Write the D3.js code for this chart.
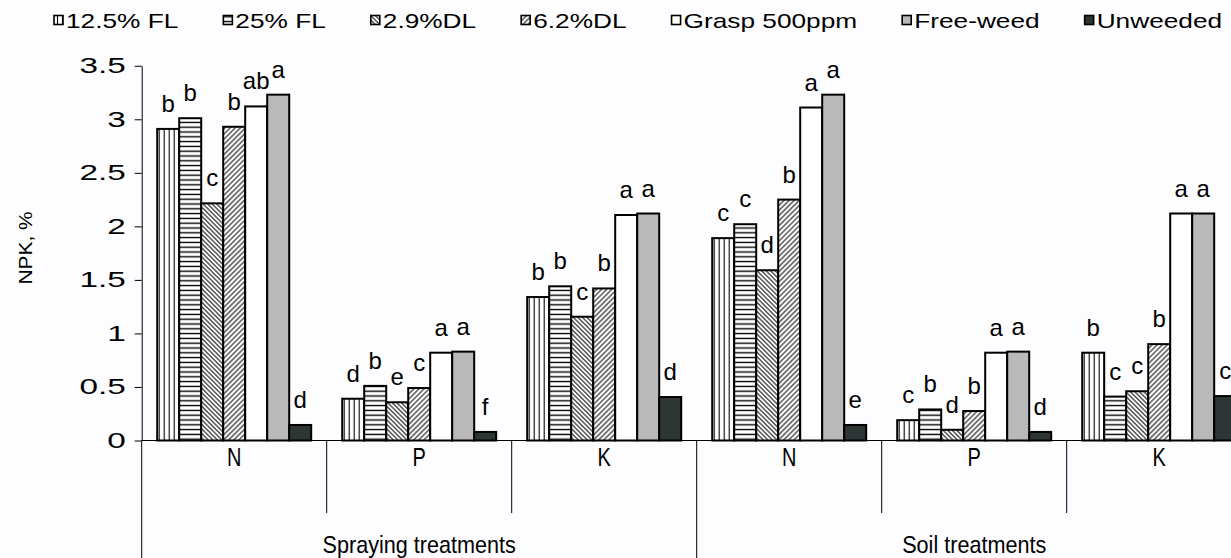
<!DOCTYPE html>
<html lang="en">
<head>
<meta charset="UTF-8">
<title>NPK, %</title>
<script src="https://d3js.org/d3.v7.min.js"></script>
<style>
    body { margin: 0; background: #fdfdff; }
    svg { display: block; }
    text { font-family: "Liberation Sans", Arial, sans-serif; fill: #000; }
</style>
</head>
<body>
<svg width="1231" height="558"></svg>
<script>
const groups = ["Spraying treatments", "Soil treatments"];
const nutrients = ["N", "P", "K"];
const series = ["12.5% FL", "25% FL", "2.9%DL", "6.2%DL", "Grasp 500ppm", "Free-weed", "Unweeded"];
const yTicks = [0, 0.5, 1, 1.5, 2, 2.5, 3, 3.5];

// values per series, order: spraying N, P, K, soil N, P, K
const fl125 = [2.91, 0.39, 1.34, 1.89, 0.19, 0.82];
const fl25 = [3.01, 0.51, 1.44, 2.02, 0.29, 0.41];
const dl29 = [2.215, 0.357, 1.156, 1.59, 0.10, 0.46];
const dl62 = [2.93, 0.49, 1.42, 2.25, 0.275, 0.90];
const grasp = [3.12, 0.82, 2.106, 3.11, 0.82, 2.12];
const freeWeed = [3.23, 0.83, 2.12, 3.23, 0.83, 2.12];
const unweeded = [0.145, 0.08, 0.406, 0.145, 0.08, 0.415];

const lettersFl125 = ["b", "d", "b", "c", "c", "b"];
const lettersFl25 = ["b", "b", "b", "c", "b", "c"];
const lettersDl29 = ["c", "e", "c", "d", "d", "c"];
const lettersDl62 = ["b", "c", "b", "b", "b", "b"];
const lettersGrasp = ["ab", "a", "a", "a", "a", "a"];
const lettersFree = ["a", "a", "a", "a", "a", "a"];
const lettersUnw = ["d", "f", "d", "e", "d", "c"];

const values = [fl125, fl25, dl29, dl62, grasp, freeWeed, unweeded];
const letters = [lettersFl125, lettersFl25, lettersDl29, lettersDl62, lettersGrasp, lettersFree, lettersUnw];
const fills = ["url(#vert)", "url(#horiz)", "url(#diagBack)", "url(#diagFwd)", "#ffffff", "#b9b9b9", "#2e3535"];

const svg = d3.select("svg");
const defs = svg.append("defs");

function linePattern(id, size, angle, sw) {
    const p = defs.append("pattern")
        .attr("id", id)
        .attr("patternUnits", "userSpaceOnUse")
        .attr("width", size).attr("height", size)
        .attr("patternTransform", "rotate(" + angle + ")");
    p.append("rect").attr("width", size).attr("height", size).attr("fill", "#fff");
    p.append("line")
        .attr("x1", size / 2).attr("y1", 0)
        .attr("x2", size / 2).attr("y2", size)
        .attr("stroke", "#000").attr("stroke-width", sw);
}
linePattern("vert", 5, 0, 1.1);
linePattern("horiz", 4.8, 90, 1.4);
linePattern("diagBack", 3.2, -45, 1);
linePattern("diagFwd", 3.6, 45, 1);

const nCats = groups.length * nutrients.length;
const x0 = d3.scaleBand().domain(d3.range(nCats)).range([141.7, 141.7 + 185 * nCats]).padding(0);
const x1 = d3.scaleBand().domain(d3.range(series.length)).range([0, x0.bandwidth()])
    .paddingInner(0).paddingOuter(0.705);
const y = d3.scaleLinear().domain([0, 3.5]).range([440.5, 65.75]);

// y axis
const yAxis = svg.append("g")
    .attr("transform", "translate(" + x0.range()[0] + ",0)")
    .call(d3.axisLeft(y).tickValues(yTicks).tickSize(7).tickSizeOuter(0).tickFormat(d => d));
yAxis.select(".domain").attr("stroke", "#000").attr("stroke-width", 1);
yAxis.selectAll(".tick line").attr("stroke", "#000");
yAxis.selectAll(".tick text")
    .attr("x", 0)
    .attr("font-size", 21.5)
    .attr("font-family", "Liberation Sans, Arial, sans-serif")
    .attr("transform", "translate(-16,0) scale(1.55,1)");

svg.append("text")
    .attr("transform", "translate(32,248) rotate(-90) scale(1.1,1)")
    .attr("text-anchor", "middle")
    .attr("font-size", 19)
    .text("NPK, %");

// bars
const cats = svg.append("g").selectAll("g")
    .data(d3.range(nCats))
    .join("g")
    .attr("transform", c => "translate(" + x0(c) + ",0)");

cats.selectAll("rect")
    .data(c => values.map((v, s) => ({ s: s, v: v[c] })))
    .join("rect")
    .attr("x", d => x1(d.s))
    .attr("y", d => y(d.v))
    .attr("width", x1.bandwidth())
    .attr("height", d => y(0) - y(d.v))
    .attr("fill", d => fills[d.s])
    .attr("stroke", "#000")
    .attr("stroke-width", 2);

cats.selectAll("text")
    .data(c => values.map((v, s) => ({ s: s, v: v[c], t: letters[s][c] })))
    .join("text")
    .attr("x", d => x1(d.s) + x1.bandwidth() / 2)
    .attr("y", d => y(d.v) - 17)
    .attr("text-anchor", "middle")
    .attr("font-size", 24)
    .text(d => d.t);

// baseline and category dividers
svg.append("line")
    .attr("x1", x0.range()[0]).attr("x2", x0.range()[1])
    .attr("y1", y(0)).attr("y2", y(0))
    .attr("stroke", "#000").attr("stroke-width", 1.2);

svg.append("g").selectAll("line")
    .data(d3.range(nCats + 1))
    .join("line")
    .attr("x1", c => x0.range()[0] + c * x0.bandwidth())
    .attr("x2", c => x0.range()[0] + c * x0.bandwidth())
    .attr("y1", y(0))
    .attr("y2", c => c % nutrients.length === 0 ? 558 : 513)
    .attr("stroke", "#000").attr("stroke-width", 1);

svg.append("g").selectAll("text")
    .data(d3.range(nCats))
    .join("text")
    .attr("transform", c => "translate(" + (x0(c) + x0.bandwidth() / 2) + ",466) scale(0.8,1)")
    .attr("text-anchor", "middle")
    .attr("font-size", 25)
    .text(c => nutrients[c % nutrients.length]);

svg.append("g").selectAll("text")
    .data(groups)
    .join("text")
    .attr("transform", (g, i) => "translate(" + (x0(i * nutrients.length) + 1.5 * x0.bandwidth()) + ",553) scale(0.9,1)")
    .attr("text-anchor", "middle")
    .attr("font-size", 24)
    .text(g => g);

// legend
const legend = svg.append("g");
const legScale = 1.25;
let lx = 54;
series.forEach((name, s) => {
    legend.append("rect")
        .attr("x", lx).attr("y", 15.5)
        .attr("width", 9).attr("height", 9)
        .attr("fill", fills[s])
        .attr("stroke", "#000").attr("stroke-width", 1.6);
    const t = legend.append("text")
        .attr("transform", "translate(" + (lx + 12) + ",28) scale(" + legScale + ",1)")
        .attr("font-size", 21)
        .text(name);
    lx += 12 + t.node().getComputedTextLength() * legScale + 45;
});
</script>
</body>
</html>
